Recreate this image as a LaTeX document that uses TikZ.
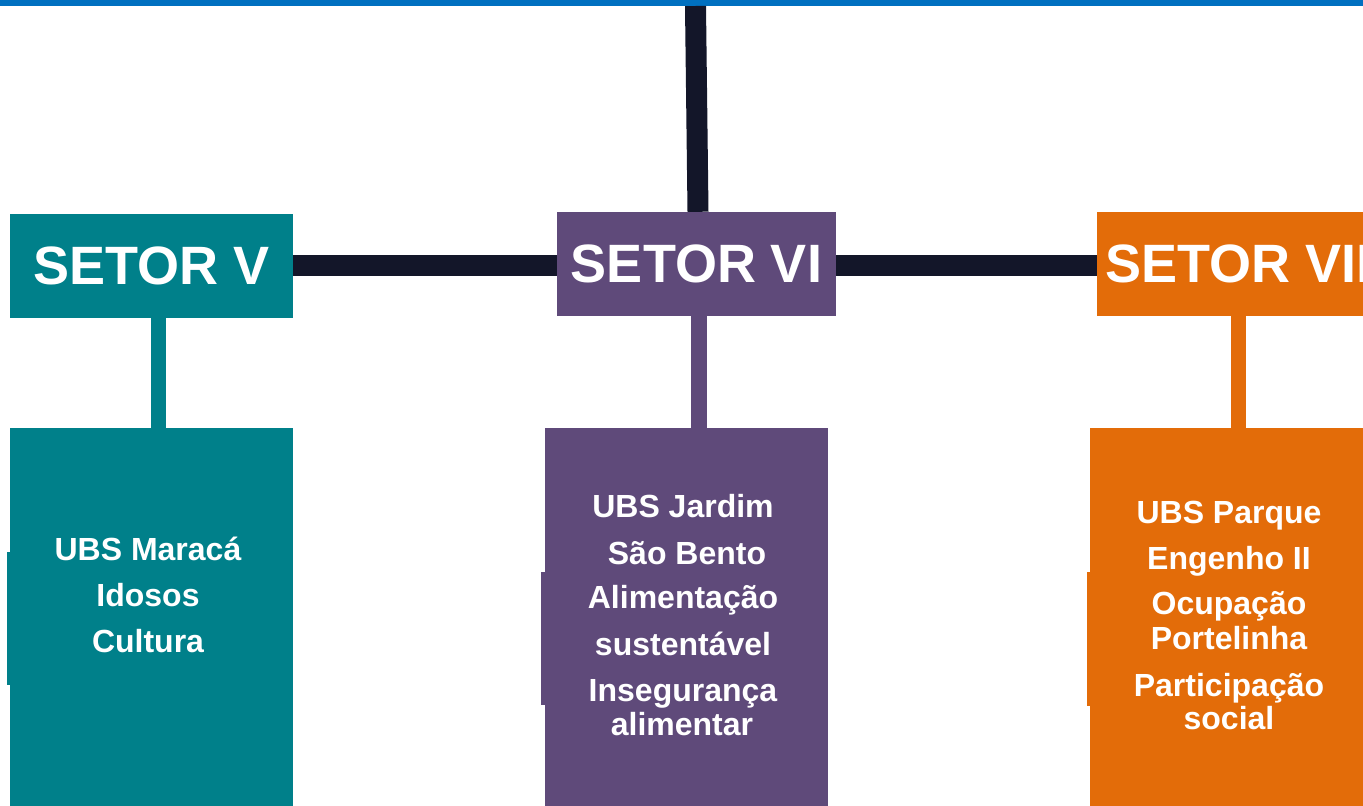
\documentclass[tikz,border=0pt]{standalone}
\usepackage{fontspec}
\setmainfont{Liberation Sans}
\definecolor{topblue}{RGB}{0,112,192}
\definecolor{darkline}{RGB}{19,22,41}
\definecolor{tealc}{RGB}{0,128,138}
\definecolor{purplec}{RGB}{95,74,122}
\definecolor{orangec}{RGB}{227,108,9}
\tikzset{
  header/.style={fill=#1, draw=none, minimum width=283pt, minimum height=104pt, inner sep=0pt,
     text=white, font=\bfseries\fontsize{54}{60}\selectfont},
  bodybox/.style={fill=#1, draw=none, minimum width=283pt, minimum height=378pt, inner sep=0pt},
  bodytext/.style={text=white, anchor=base, inner sep=0pt, font=\bfseries\fontsize{32}{36}\selectfont},
  thickdark/.style={draw=darkline, line width=21pt},
  conn/.style={draw=#1, line width=15.5pt}
}
\begin{document}
\begin{tikzpicture}[x=1pt,y=-1pt]
\useasboundingbox (0,0) rectangle (1363,806);
\clip (0,0) rectangle (1363,806);
% top bar
\node[fill=topblue, minimum width=1363pt, minimum height=6pt, inner sep=0pt] (topbar) at (681.5,3) {};
% header boxes
\node[header=tealc] (s5) at (151.5,266) {SETOR V};
\node[header=purplec, minimum width=279pt] (s6) at (696.5,264) {SETOR VI};
\node[header=orangec] (s7) at (1238.5,264) {SETOR VII};
% body boxes
\node[bodybox=tealc] (b5) at (151.5,617) {};
\node[bodybox=purplec] (b6) at (686.5,617) {};
\node[bodybox=orangec] (b7) at (1231.5,617) {};
% small left extensions of the body boxes
\fill[tealc] (7,552) rectangle (11,685);
\fill[purplec] (541,572) rectangle (546,705);
\fill[orangec] (1087,572) rectangle (1091,706);
% dark connectors
\coordinate (topin) at (695.5,6);
\draw[thickdark] (topin) -- (s6.north -| 698,0);
\draw[thickdark] (s5.east |- 0,265.5) -- (s6.west |- 0,265.5);
\draw[thickdark] (s6.east |- 0,265.5) -- (s7.west |- 0,265.5);
% coloured connectors
\draw[conn=tealc] (s5.south -| 158.5,0) -- (b5.north -| 158.5,0);
\draw[conn=purplec] (s6.south -| 699,0) -- (b6.north -| 699,0);
\draw[conn=orangec] (s7.south -| 1238.5,0) -- (b7.north -| 1238.5,0);
% body texts
\node[bodytext] (t51) at (148,560) {UBS Maracá};
\node[bodytext] (t52) at (148,606) {Idosos};
\node[bodytext] (t53) at (148,652) {Cultura};
\node[bodytext] (t61) at (683,517) {UBS Jardim};
\node[bodytext] (t62) at (687,564) {São Bento};
\node[bodytext] (t63) at (683,608) {Alimentação};
\node[bodytext] (t64) at (683,655) {sustentável};
\node[bodytext] (t65) at (683,701) {Insegurança};
\node[bodytext] (t66) at (682,735) {alimentar};
\node[bodytext] (t71) at (1229,523) {UBS Parque};
\node[bodytext] (t72) at (1229,569) {Engenho II};
\node[bodytext] (t73) at (1229,614) {Ocupação};
\node[bodytext] (t74) at (1229,649) {Portelinha};
\node[bodytext] (t75) at (1229,696) {Participação};
\node[bodytext] (t76) at (1229,729) {social};
\end{tikzpicture}
\end{document}
